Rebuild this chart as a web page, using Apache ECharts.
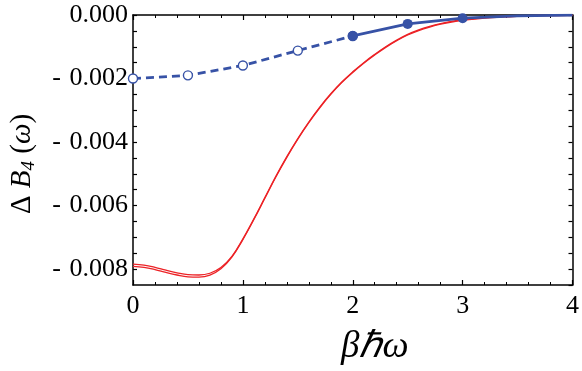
<!DOCTYPE html>
<html><head><meta charset="utf-8">
<script src="https://cdn.jsdelivr.net/npm/echarts@6/dist/echarts.min.js"></script>
<style>html,body{margin:0;padding:0;background:#fff}#c{width:582px;height:371px}</style>
</head><body><div id="c"></div>
<script>
// x grid for the red curves
const redX = [0,0.1,0.2,0.3,0.4,0.5,0.6,0.7,0.8,0.9,1.0,1.1,1.2,1.3,1.4,1.5,1.6,1.7,1.8,1.9,2.0,2.1,2.2,2.3,2.4,2.5,2.6,2.7,2.8,2.9,3.0,3.2,3.4,3.6,3.8,4.0];
const redUpper = [-0.007845,-0.007875,-0.007945,-0.008035,-0.008115,-0.008175,-0.008185,-0.00813,-0.00795,-0.00760,-0.00705,-0.00642,-0.00575,-0.00508,-0.00446,-0.00389,-0.00337,-0.00290,-0.00248,-0.00211,-0.00179,-0.00150,-0.00124,-0.00100,-0.00079,-0.00061,-0.00047,-0.00036,-0.00027,-0.00020,-0.00015,-0.00008,-0.00004,-0.00002,-0.00001,0];
const redLower = [-0.007915,-0.007945,-0.008015,-0.008105,-0.008185,-0.008245,-0.008255,-0.00819,-0.00799,-0.00762,-0.00707,-0.00644,-0.00577,-0.00510,-0.00448,-0.00391,-0.00339,-0.00292,-0.00250,-0.00213,-0.00181,-0.00152,-0.00126,-0.00102,-0.00081,-0.00063,-0.00049,-0.00038,-0.00029,-0.00022,-0.00017,-0.00010,-0.00006,-0.00003,-0.00002,-0.00001];
// blue: dashed part (open circles) and solid part (filled circles)
const blueDashX = [0,0.5,1.0,1.5,2.0];
const blueDashY = [-0.00200,-0.00190,-0.00159,-0.00112,-0.00066];
const blueSolidX = [2.0,2.5,3.0,3.5,4.0];
const blueSolidY = [-0.00066,-0.00028,-0.00010,-0.00003,-0.000005];
const blueSolidMarked = [true,true,true,false,false];

const RED = '#ec2226', BLUE = '#3752a6';
const zip = (a,b) => a.map((v,i)=>[v,b[i]]);
const fmtY = v => {
  const k = Math.round(v*10000);
  if (k % 20 !== 0) return '';
  if (k === 0) return '0.000';
  return '- \u200A' + Math.abs(v).toFixed(3);
};
const serif = 'Liberation Serif';

const chart = echarts.init(document.getElementById('c'), null, {renderer:'canvas'});
const axisLine = {show:true, onZero:false, lineStyle:{color:'#000', width:1.5}};
const xTick = {show:true, inside:true, length:5, lineStyle:{color:'#000', width:1.2}};
const xMinor = {show:true, splitNumber:5, length:3, lineStyle:{color:'#000', width:1}};
const yTick = {show:true, inside:true, length:4, lineStyle:{color:'#000', width:1.2}};
chart.setOption({
  animation:false,
  grid:{left:132, top:15, right:5.5, bottom:82.7},
  xAxis:[{
    type:'value', min:0, max:4, interval:1, position:'bottom',
    axisLine, axisTick:xTick, minorTick:xMinor, splitLine:{show:false}, minorSplitLine:{show:false},
    axisLabel:{color:'#000', fontFamily:serif, fontSize:26, margin:8, formatter:v=>String(v), showMaxLabel:true},
    name:'βℏω', nameLocation:'middle', nameGap:44,
    nameTextStyle:{color:'#000', fontFamily:serif, fontStyle:'italic', fontSize:37, padding:[0,0,0,44]}
  },{
    type:'value', min:0, max:4, interval:1, position:'top',
    axisLine, axisTick:xTick, minorTick:xMinor, splitLine:{show:false}, axisLabel:{show:false}
  }],
  yAxis:[{
    type:'value', min:-0.0085, max:0, interval:0.0005, position:'left',
    axisLine, axisTick:yTick, splitLine:{show:false},
    axisLabel:{color:'#000', fontFamily:serif, fontSize:26, margin:5, formatter:fmtY, showMinLabel:false},
    name:'{a|Δ }{b|B}{s|4}{a| (}{b|ω}{a|)}', nameLocation:'middle', nameGap:95, nameRotate:90,
    nameTextStyle:{color:'#000', padding:[0,28,0,0], rich:{
      a:{fontFamily:serif, fontSize:29, color:'#000'},
      b:{fontFamily:serif, fontSize:29, fontStyle:'italic', color:'#000'},
      s:{fontFamily:serif, fontSize:19, fontStyle:'italic', color:'#000', padding:[12,0,0,0]}
    }}
  },{
    type:'value', min:-0.0085, max:0, interval:0.0005, position:'right',
    axisLine, axisTick:yTick, splitLine:{show:false}, axisLabel:{show:false}
  }],
  series:[
    {type:'line', data:zip(redX, redUpper), smooth:0.4, showSymbol:false, symbol:'none',
     lineStyle:{color:RED, width:1.3}, z:2},
    {type:'line', data:zip(redX, redLower), smooth:0.4, showSymbol:false, symbol:'none',
     lineStyle:{color:RED, width:1.3}, z:2},
    {type:'line', data:zip(blueDashX, blueDashY), symbol:'circle', symbolSize:9, showSymbol:true,
     itemStyle:{color:'#fff', borderColor:BLUE, borderWidth:1.4},
     lineStyle:{color:BLUE, width:2.8, type:[8,5]}, z:3},
    {type:'line', data:blueSolidX.map((x,i)=>({value:[x, blueSolidY[i]], symbol: blueSolidMarked[i]?'circle':'none'})),
     symbolSize:10, showSymbol:true,
     itemStyle:{color:BLUE}, lineStyle:{color:BLUE, width:2.8}, z:4}
  ]
});
</script></body></html>
